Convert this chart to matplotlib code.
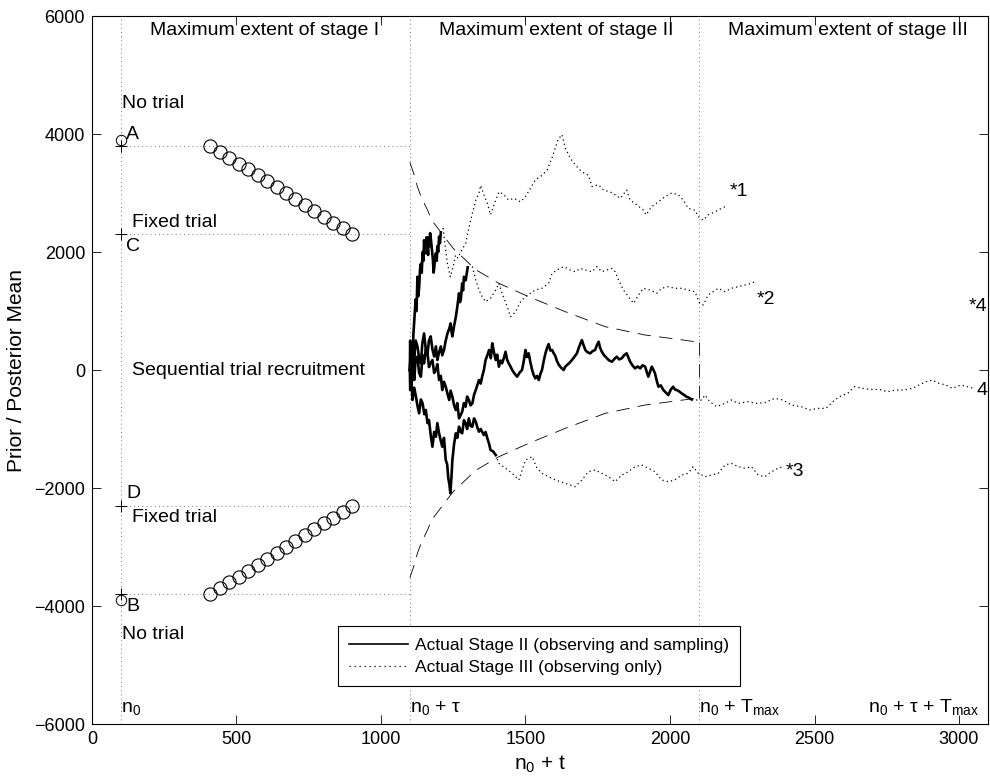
import matplotlib
matplotlib.use('Agg')
import matplotlib.pyplot as plt
from matplotlib.lines import Line2D

plt.rcParams['font.family'] = ['Liberation Sans', 'DejaVu Sans']
plt.rcParams['mathtext.fontset'] = 'custom'
plt.rcParams['mathtext.rm'] = 'Liberation Sans'
plt.rcParams['mathtext.it'] = 'Liberation Sans'

# stage boundaries (n0, n0+tau, n0+Tmax)
stage_x = [100, 1100, 2100]

# fixed-trial diagonal circles
circle_x = [410, 443, 475, 508, 541, 573, 606, 639, 671, 704, 737, 769, 802, 835, 867, 900]
circle_y = [3800, 3700, 3600, 3500, 3400, 3300, 3200, 3100, 3000, 2900, 2800, 2700, 2600, 2500, 2400, 2300]

# sequential boundary (upper half, mirrored for lower)
bound_x = [1100, 1115, 1126, 1141, 1161, 1175, 1250, 1328, 1408, 1511, 1638, 1776, 1914, 2046, 2100]
bound_y = [3520, 3305, 3107, 2910, 2712, 2542, 2060, 1700, 1469, 1243, 988, 734, 593, 508, 470]

# path 1
s2_a_x = [1100, 1104, 1108, 1112, 1116, 1120, 1123, 1126, 1129, 1132, 1135, 1138, 1141, 1144, 1147,
          1149, 1152, 1155, 1158, 1160, 1163, 1165, 1168, 1170, 1173, 1175, 1178, 1180, 1182, 1184,
          1187, 1190, 1193, 1195, 1198, 1201, 1204, 1207]
s2_a_y = [0, 400, -100, 600, 900, 1200, 1000, 1580, 1250, 1400, 1700, 1800, 1650, 2000, 1850,
          2200, 2050, 1980, 2250, 2150, 1950, 2250, 2100, 2320, 2200, 2100, 1950, 1850, 1650, 1720,
          1900, 1980, 1850, 2100, 2000, 2260, 2150, 2330]
s3_a_x = [1207, 1215, 1222, 1230, 1240, 1250, 1258, 1266, 1276, 1293, 1305, 1316, 1328, 1339, 1345,
          1356, 1368, 1379, 1391, 1408, 1425, 1442, 1460, 1483, 1500, 1517, 1534, 1557, 1575, 1592,
          1603, 1612, 1626, 1638, 1655, 1672, 1695, 1718, 1730, 1753, 1770, 1793, 1810, 1828, 1850,
          1862, 1885, 1908, 1917, 1937, 1960, 1983, 2006, 2029, 2046, 2063, 2086, 2098, 2115, 2132,
          2155, 2178, 2195]
s3_a_y = [2330, 2400, 2100, 1800, 1580, 1760, 1950, 1900, 2005, 2147, 2430, 2655, 2880, 3000, 3130,
          2970, 2825, 2630, 2800, 3020, 2970, 2880, 2910, 2850, 2940, 3080, 3220, 3300, 3390, 3600,
          3760, 3900, 3990, 3760, 3590, 3475, 3360, 3300, 3110, 3140, 3050, 3020, 2970, 2910, 3050,
          2880, 2800, 2710, 2630, 2770, 2850, 2940, 3000, 2970, 2880, 2740, 2710, 2600, 2540, 2630,
          2680, 2740, 2780]

# path 2
s2_b_x = [1100, 1101, 1104, 1108, 1111, 1115, 1120, 1126, 1132, 1138, 1143, 1149, 1155, 1161, 1166,
          1172, 1178, 1184, 1190, 1195, 1201, 1207, 1212, 1218, 1224, 1230, 1236, 1241, 1244, 1247,
          1253, 1259, 1264, 1270, 1273, 1276, 1281, 1284, 1287, 1293, 1300]
s2_b_y = [0, 500, -100, 150, 450, 230, 500, 400, 200, 110, 450, 620, 350, 280, 500,
          570, 350, 230, 400, 170, 300, 400, 250, 340, 500, 620, 700, 790, 650, 570,
          750, 900, 1070, 1300, 1150, 1190, 1470, 1350, 1580, 1520, 1740]
s3_b_x = [1300, 1316, 1328, 1339, 1350, 1362, 1379, 1397, 1408, 1419, 1437, 1448, 1466, 1483, 1500,
          1517, 1534, 1557, 1580, 1592, 1609, 1632, 1655, 1672, 1690, 1707, 1730, 1747, 1764, 1781,
          1799, 1810, 1822, 1839, 1856, 1874, 1891, 1908, 1931, 1954, 1971, 1994, 2017, 2040, 2063,
          2086, 2103, 2115, 2132, 2149, 2167, 2190, 2212, 2236, 2259, 2282, 2293]
s3_b_y = [1740, 1750, 1525, 1356, 1243, 1158, 1215, 1356, 1469, 1300, 1073, 904, 988, 1158, 1243,
          1300, 1356, 1385, 1469, 1639, 1695, 1751, 1695, 1666, 1723, 1695, 1666, 1751, 1666, 1695,
          1723, 1666, 1525, 1356, 1243, 1130, 1271, 1385, 1356, 1300, 1385, 1412, 1385, 1385, 1356,
          1328, 1130, 1102, 1271, 1328, 1385, 1328, 1385, 1412, 1441, 1469, 1497]

# path 4 (reaches n0+Tmax)
s2_c_x = [1100, 1101, 1104, 1108, 1111, 1115, 1120, 1126, 1132, 1138, 1144, 1149, 1155, 1161, 1166,
          1170, 1178, 1184, 1190, 1195, 1201, 1207, 1212, 1218, 1224, 1230, 1236, 1241, 1247, 1253,
          1259, 1264, 1270, 1276, 1281, 1287, 1293, 1298, 1304, 1310, 1316, 1322, 1328, 1334, 1339,
          1345, 1350, 1356, 1362, 1368, 1374, 1380, 1385, 1391, 1397, 1402, 1408, 1414, 1419, 1425,
          1431, 1436, 1442, 1448, 1454, 1462, 1471, 1480, 1488, 1494, 1500, 1505, 1511, 1517, 1523,
          1528, 1534, 1540, 1546, 1552, 1557, 1563, 1569, 1575, 1580, 1586, 1592, 1598, 1603, 1609,
          1615, 1623, 1632, 1638, 1644, 1652, 1661, 1670, 1678, 1686, 1695, 1701, 1707, 1715, 1724,
          1732, 1741, 1747, 1753, 1758, 1764, 1772, 1782, 1790, 1799, 1808, 1816, 1824, 1833, 1841,
          1850, 1856, 1862, 1870, 1879, 1888, 1897, 1905, 1914, 1920, 1925, 1931, 1937, 1943, 1948,
          1954, 1960, 1968, 1977, 1985, 1994, 2003, 2011, 2017, 2023, 2031, 2040, 2048, 2057, 2066,
          2075]
s2_c_y = [0, 110, 400, -150, 300, -170, 200, 226, -50, -113, 250, 113, 350, 283, 50,
          100, 170, -50, 0, 100, -170, -100, -339, -200, -283, -400, -508, -350, -452, -600,
          -678, -560, -819, -760, -706, -560, -621, -450, -508, -600, -565, -420, -339, -250, -170,
          -230, -113, 0, 170, 250, 339, 200, 452, 300, 170, 260, 56, 160, 113, 200,
          310, 180, 113, 60, 0, -60, -113, -40, 0, 150, 339, 220, 283, 130, 0,
          -80, -141, -100, -170, -60, 0, 150, 283, 380, 440, 330, 340, 280, 240, 150,
          90, 40, 0, 60, 85, 120, 170, 230, 283, 400, 508, 420, 339, 300, 283,
          320, 339, 420, 480, 380, 310, 250, 198, 160, 141, 190, 226, 180, 198, 250,
          283, 210, 141, 80, 28, 60, 28, 80, 56, -40, -113, -30, 56, 0, -56,
          -180, -283, -260, -339, -380, -424, -330, -283, -330, -339, -360, -395, -420, -452, -470,
          -500]
s3_c_x = [2075, 2092, 2109, 2121, 2138, 2161, 2190, 2212, 2236, 2270, 2299, 2328, 2362, 2391, 2419,
          2454, 2483, 2512, 2540, 2563, 2586, 2615, 2638, 2667, 2695, 2724, 2753, 2781, 2810, 2839,
          2862, 2885, 2908, 2931, 2954, 2977, 3006, 3029, 3052]
s3_c_y = [-500, -508, -508, -424, -537, -621, -565, -508, -565, -537, -565, -554, -480, -508, -593,
          -621, -678, -650, -650, -537, -452, -395, -283, -311, -329, -329, -367, -339, -339, -311,
          -254, -198, -170, -226, -254, -311, -254, -283, -311]

# path 3
s2_d_x = [1100, 1101, 1105, 1109, 1115, 1121, 1126, 1132, 1138, 1144, 1150, 1155, 1161, 1166, 1172,
          1178, 1184, 1190, 1195, 1201, 1207, 1212, 1218, 1224, 1229, 1233, 1237, 1240, 1244, 1247,
          1253, 1259, 1264, 1270, 1276, 1281, 1287, 1293, 1298, 1304, 1310, 1316, 1322, 1328, 1334,
          1339, 1345, 1356, 1362, 1368, 1374, 1379, 1388, 1397]
s2_d_y = [0, -339, -150, -508, -300, -452, -600, -734, -500, -565, -750, -678, -900, -847, -1100,
          -1300, -1050, -1130, -900, -1073, -1200, -1300, -1150, -1525, -1600, -1836, -1950, -2090, -1800, -1525,
          -1250, -1073, -1150, -960, -1050, -1073, -850, -904, -1000, -819, -950, -960, -820, -876, -980,
          -1045, -1000, -1102, -1050, -1158, -1250, -1356, -1380, -1441]
s3_d_x = [1397, 1408, 1431, 1454, 1477, 1500, 1523, 1540, 1557, 1580, 1603, 1638, 1672, 1695, 1718,
          1741, 1764, 1787, 1810, 1833, 1856, 1879, 1902, 1925, 1948, 1971, 1994, 2017, 2040, 2063,
          2080, 2098, 2121, 2143, 2167, 2190, 2212, 2236, 2259, 2282, 2305, 2328, 2351, 2374, 2391]
s3_d_y = [-1441, -1582, -1666, -1751, -1864, -1525, -1469, -1666, -1751, -1808, -1864, -1921, -1977, -1864, -1723,
          -1695, -1751, -1808, -1893, -1780, -1723, -1639, -1610, -1666, -1723, -1864, -1893, -1864, -1780, -1751,
          -1639, -1751, -1808, -1780, -1751, -1610, -1582, -1639, -1666, -1639, -1780, -1808, -1723, -1666, -1639]

fig = plt.figure(figsize=(9.9, 7.78), dpi=100)
ax = fig.add_axes([0.0929, 0.0694, 0.905, 0.910])

grid_ls = (0, (1, 4))
for sx in stage_x:
    ax.plot([sx, sx], [-6000, 6000], color='0.3', lw=0.6, ls=grid_ls)
for hy in [3800, 2300, -2300, -3800]:
    ax.plot([100, 1100], [hy, hy], color='0.3', lw=0.6, ls=grid_ls)

ax.plot([100, 100], [3900, -3900], 'ko', mfc='none', ms=7.5, mew=0.7)
ax.plot([100, 100, 100, 100], [3800, 2300, -2300, -3800], 'k+', ms=9, mew=0.7)
ax.plot(circle_x, circle_y, 'ko', mfc='none', ms=9.5, mew=0.8)
ax.plot(circle_x, [-v for v in circle_y], 'ko', mfc='none', ms=9.5, mew=0.8)

dash = (0, (16, 10))
ax.plot(bound_x, bound_y, color='k', lw=0.6, ls=dash)
ax.plot(bound_x, [-v for v in bound_y], color='k', lw=0.6, ls=dash)
ax.plot([2100, 2100], [bound_y[-1], -bound_y[-1]], color='k', lw=0.6, ls=dash)

dot = (0, (1, 2.5))
for xs, ys in [(s3_a_x, s3_a_y), (s3_b_x, s3_b_y), (s3_c_x, s3_c_y), (s3_d_x, s3_d_y)]:
    ax.plot(xs, ys, color='k', lw=0.9, ls=dot)
for xs, ys in [(s2_a_x, s2_a_y), (s2_b_x, s2_b_y), (s2_c_x, s2_c_y), (s2_d_x, s2_d_y)]:
    ax.plot(xs, ys, color='k', lw=1.9)

fs = 14
ax.text(200, 5760, 'Maximum extent of stage I', fontsize=fs, va='center')
ax.text(1200, 5760, 'Maximum extent of stage II', fontsize=fs, va='center')
ax.text(2200, 5760, 'Maximum extent of stage III', fontsize=fs, va='center')
ax.text(105, 4520, 'No trial', fontsize=fs, va='center')
ax.text(140, 2500, 'Fixed trial', fontsize=fs, va='center')
ax.text(140, 0, 'Sequential trial recruitment', fontsize=fs, va='center')
ax.text(140, -2500, 'Fixed trial', fontsize=fs, va='center')
ax.text(105, -4480, 'No trial', fontsize=fs, va='center')
ax.text(118, 4000, 'A', fontsize=fs, va='center')
ax.text(118, 2100, 'C', fontsize=fs, va='center')
ax.text(118, -2100, 'D', fontsize=fs, va='center')
ax.text(118, -4010, 'B', fontsize=fs, va='center')
ax.text(2205, 3020, '*1', fontsize=fs, va='center')
ax.text(2300, 1190, '*2', fontsize=fs, va='center')
ax.text(2400, -1720, '*3', fontsize=fs, va='center')
ax.text(3035, 1080, '*4', fontsize=fs, va='center')
ax.text(3060, -340, '4', fontsize=fs, va='center')

ax.text(100, -5800, r'n$_0$', fontsize=fs, va='baseline')
ax.text(1100, -5800, r'n$_0$ + τ', fontsize=fs, va='baseline')
ax.text(2100, -5800, r'n$_0$ + T$_{\mathrm{max}}$', fontsize=fs, va='baseline')
ax.text(2685, -5800, r'n$_0$ + τ + T$_{\mathrm{max}}$', fontsize=fs, va='baseline')

handles = [Line2D([], [], color='k', lw=1.2),
           Line2D([], [], color='k', lw=0.9, ls=(0, (1, 3)))]
leg = ax.legend(handles, ['Actual Stage II (observing and sampling)',
                          'Actual Stage III (observing only)'],
                loc='lower left', bbox_to_anchor=(0.2745, 0.0537), borderaxespad=0,
                fontsize=12.5, fancybox=False, edgecolor='k', framealpha=1,
                handlelength=3.4, borderpad=0.65, labelspacing=0.4, handletextpad=0.4)
leg.get_frame().set_linewidth(0.8)

ax.set_xlim(0, 3100)
ax.set_ylim(-6000, 6000)
ax.set_xticks([0, 500, 1000, 1500, 2000, 2500, 3000])
ax.set_yticks([-6000, -4000, -2000, 0, 2000, 4000, 6000])
ax.tick_params(direction='in', length=6.5, width=0.6, labelsize=13, top=True, right=True, pad=5)
for sp in ax.spines.values():
    sp.set_linewidth(0.8)

ax.set_xlabel(r'n$_0$ + t', fontsize=15, labelpad=4)
ax.set_ylabel('Prior / Posterior Mean', fontsize=15, labelpad=6)

fig.savefig('out.png', dpi=100)
